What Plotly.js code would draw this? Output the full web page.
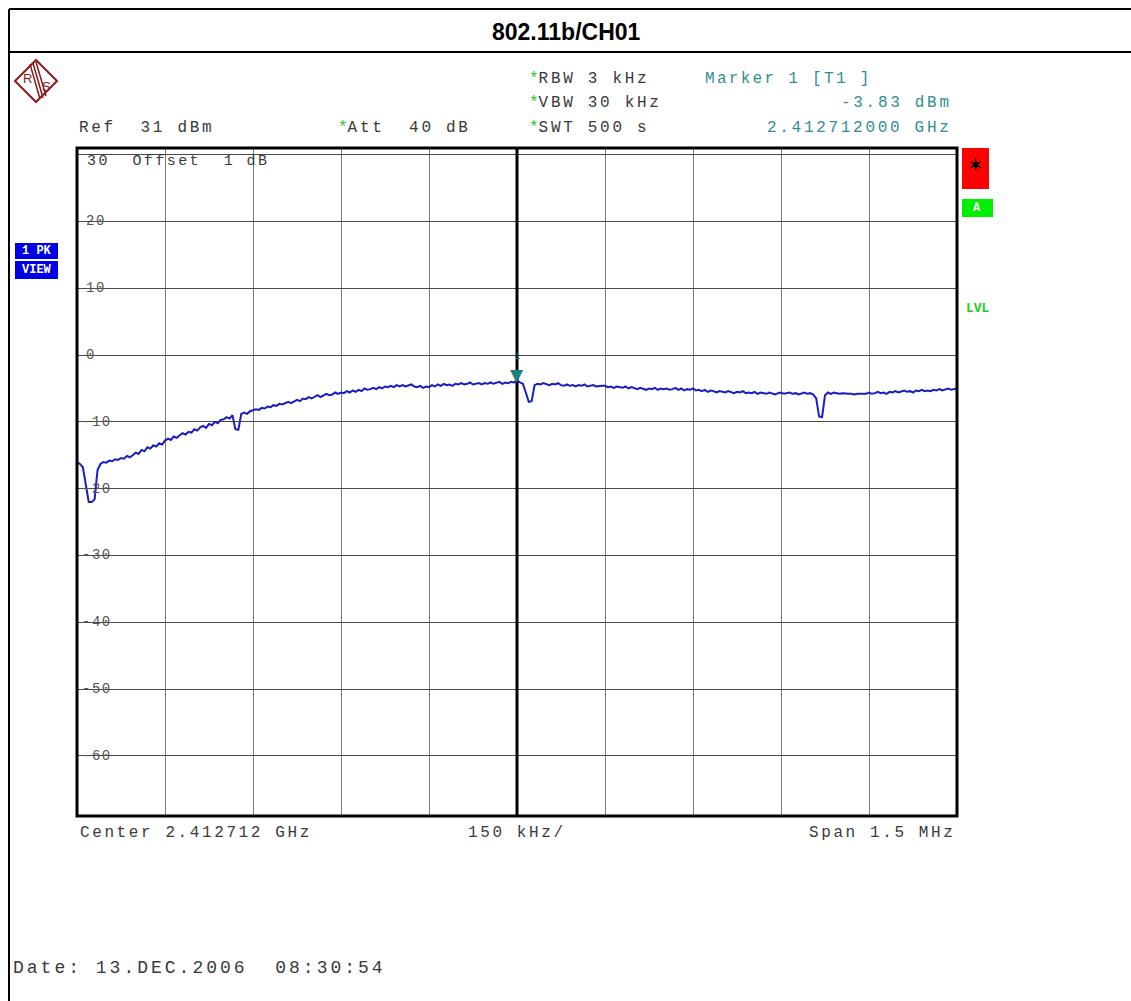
<!DOCTYPE html>
<html>
<head>
<meta charset="utf-8">
<script src="https://cdn.plot.ly/plotly-3.0.1.min.js"></script>
<style>
html,body{margin:0;padding:0;background:#fff;}
#chart{width:1131px;height:1001px;}
</style>
</head>
<body>
<div id="chart"></div>
<script>
// ---------------- DATA ----------------
const titleText = "802.11b/CH01";
const centerFreqText = "2.412712 GHz";
const spanKHz = 1500;            // 1.5 MHz span
const sweepPoints = 301;         // trace points across the span
const divKHz = 150;              // 150 kHz/div
const refLevel = 31;             // Ref 31 dBm (top of grid)
const bottomLevel = -69;         // 10 dB/div, 10 divisions
const yLabelValues = [30, 20, 10, 0, -10, -20, -30, -40, -50, -60];
const markerKHz = 750;           // marker 1 at center
const markerLevel = -3.83;       // dBm

// trace level (dBm), one value every 5 kHz from the left edge
const traceLevels = [
  -16.0, -16.3, -16.8, -19.5, -22.0, -22.0, -21.6, -17.2, -16.3, -16.0,
  -16.1, -15.8, -15.9, -15.6, -15.7, -15.4, -15.5, -15.1, -15.3, -15.0,
  -14.6, -14.8, -14.2, -14.4, -13.8, -14.0, -13.5, -13.7, -13.2, -13.4,
  -12.8, -12.5, -12.7, -12.2, -12.4, -12.0, -11.7, -11.9, -11.5, -11.6,
  -11.1, -11.3, -10.8, -10.6, -10.9, -10.3, -10.5, -10.0, -10.2, -9.7,
  -9.6, -9.3, -9.5, -9.0, -11.1, -11.2, -8.8, -8.6, -8.8, -8.4,
  -8.3, -8.1, -8.2, -7.9, -8.0, -7.7, -7.8, -7.5, -7.6, -7.3,
  -7.4, -7.2, -7.0, -7.2, -6.9, -6.7, -6.9, -6.5, -6.6, -6.3,
  -6.5, -6.2, -6.0, -6.3, -6.1, -5.8, -6.0, -5.9, -5.6, -5.8,
  -5.6, -5.7, -5.4, -5.6, -5.3, -5.5, -5.2, -5.4, -5.0, -5.2,
  -5.1, -4.9, -5.1, -4.8, -5.0, -4.7, -4.8, -4.6, -4.8, -4.5,
  -4.7, -4.5, -4.7, -4.6, -4.4, -4.7, -4.8, -4.6, -4.9, -4.7,
  -4.8, -4.5, -4.7, -4.4, -4.6, -4.3, -4.5, -4.4, -4.6, -4.3,
  -4.4, -4.2, -4.4, -4.3, -4.1, -4.4, -4.3, -4.2, -4.4, -4.2,
  -4.3, -4.1, -4.3, -4.2, -4.0, -4.3, -4.1, -4.2, -4.0, -4.1,
  -3.83, -4.1, -4.3, -5.6, -7.0, -6.9, -4.5, -4.3, -4.4, -4.2,
  -4.3, -4.5, -4.3, -4.4, -4.2, -4.5, -4.6, -4.4, -4.6, -4.5,
  -4.7, -4.5, -4.6, -4.4, -4.7, -4.6, -4.5, -4.7, -4.6, -4.6,
  -4.6, -4.8, -4.7, -4.9, -4.7, -4.8, -4.9, -4.7, -5.0, -4.8,
  -4.9, -5.1, -4.9, -5.0, -5.2, -5.0, -5.1, -4.9, -5.2, -5.0,
  -5.1, -5.0, -5.2, -5.1, -4.9, -5.2, -5.0, -5.3, -5.1, -5.2,
  -5.0, -5.3, -5.2, -5.4, -5.2, -5.5, -5.3, -5.4, -5.6, -5.4,
  -5.5, -5.6, -5.4, -5.5, -5.7, -5.5, -5.6, -5.4, -5.7, -5.6,
  -5.7, -5.5, -5.8, -5.6, -5.7, -5.8, -5.6, -5.7, -5.9, -5.7,
  -5.6, -5.8, -5.7, -5.6, -5.8, -5.7, -5.9, -5.7, -5.6, -5.8,
  -5.7, -5.9, -6.5, -9.2, -9.3, -6.0, -5.6, -5.8, -5.6, -5.7,
  -5.8, -5.7, -5.8, -5.8, -5.8, -5.9, -5.8, -5.8, -5.7, -5.8,
  -5.6, -5.8, -5.7, -5.5, -5.7, -5.6, -5.8, -5.5, -5.6, -5.4,
  -5.6, -5.5, -5.3, -5.5, -5.4, -5.6, -5.3, -5.4, -5.2, -5.4,
  -5.3, -5.4, -5.2, -5.3, -5.1, -5.3, -5.2, -5.0, -5.2, -5.1,
  -5.0
];

// sweep positions (kHz from left edge of the span)
const sweepKHz = traceLevels.map((_, i) => i * spanKHz / (sweepPoints - 1));

// ---------------- LAYOUT HELPERS ----------------
const W = 1131, H = 1001;
const M = {l: 77, r: W - 957, t: 148, b: H - 816};
const pw = W - M.l - M.r, ph = H - M.t - M.b;
const px = x => (x - M.l) / pw;          // pixel -> paper x
const py = y => (H - M.b - y) / ph;      // pixel -> paper y
const dbPerPx = (refLevel - bottomLevel) / ph;

const MONO = "Liberation Mono, DejaVu Sans Mono, monospace";
const GRAY = "#3a3a3a";
const TEAL = "#2f8f8f";
const GREEN = "#22cc22";
const LOGO = "#8b1c1c";
const sp = (t, ls) => `<span style="letter-spacing:${ls}px">${t}</span>`;
const star = `<span style="color:${GREEN}">*</span>`;

function txt(x, y, text, opts = {}) {
  return Object.assign({
    xref: "paper", yref: "paper", x: px(x), y: py(y),
    text: text, showarrow: false, xanchor: "left", yanchor: "middle",
    font: {family: MONO, size: 16, color: GRAY}, borderpad: 0
  }, opts);
}

const annotations = [
  // title
  txt(566, 32, "<b>" + titleText + "</b>", {xanchor: "center",
    font: {family: "Liberation Sans, Arial, sans-serif", size: 23, color: "#000"}}),
  // header
  txt(78, 128, sp("Ref  31 dBm", 2.7)),
  txt(337, 128, star + sp("Att  40 dB", 2.7)),
  txt(528, 79, star + sp("RBW 3 kHz", 2.7)),
  txt(528, 103, star + sp("VBW 30 kHz", 2.7)),
  txt(528, 128, star + sp("SWT 500 s", 2.7)),
  txt(704, 79, sp("Marker 1 [T1 ]", 2.3), {font: {family: MONO, size: 16, color: TEAL}}),
  txt(953, 103, sp("-3.83 dBm", 2.7), {xanchor: "right", font: {family: MONO, size: 16, color: TEAL}}),
  txt(953, 128, sp("2.412712000 GHz", 2.7), {xanchor: "right", font: {family: MONO, size: 16, color: TEAL}}),
  // top-left inside grid
  txt(86, 161, sp("30  Offset  1 dB", 2.4), {font: {family: MONO, size: 15, color: GRAY}}),
  // bottom
  txt(79, 833, sp("Center " + centerFreqText, 2.6)),
  txt(517, 833, sp(divKHz + " kHz/", 2.6), {xanchor: "center"}),
  txt(956, 833, sp("Span 1.5 MHz", 2.6), {xanchor: "right"}),
  txt(12, 968, sp("Date: 13.DEC.2006  08:30:54", 3.0), {font: {family: MONO, size: 18, color: GRAY}}),
  // side boxes
  txt(36.5, 251, "<b>1 PK</b>", {xanchor: "center", font: {family: MONO, size: 12, color: "#fff"}}),
  txt(36.5, 270, "<b>VIEW</b>", {xanchor: "center", font: {family: MONO, size: 12, color: "#fff"}}),
  txt(975.5, 165, "✶", {xanchor: "center", font: {family: "DejaVu Sans", size: 20, color: "#000"}}),
  txt(977, 208, "<b>A</b>", {xanchor: "center", font: {family: MONO, size: 12, color: "#fff"}}),
  txt(978, 308, "<b>LVL</b>", {xanchor: "center", font: {family: MONO, size: 13, color: GREEN}}),
  // R&S logo letters
  txt(27, 78, "R", {xanchor: "center", font: {family: "Liberation Sans, Arial", size: 13, color: LOGO}}),
  txt(46, 86, "S", {xanchor: "center", font: {family: "Liberation Sans, Arial", size: 13, color: LOGO}}),
  // marker 1
  {xref: "x", yref: "y", x: markerKHz, y: markerLevel, text: "▼", showarrow: false,
   xanchor: "center", yanchor: "bottom", yshift: -6,
   font: {family: "DejaVu Sans", size: 17, color: "#1f7f7a"}},
  {xref: "x", yref: "y", x: markerKHz, y: markerLevel, text: "1", showarrow: false,
   xanchor: "center", yanchor: "bottom", yshift: 17,
   font: {family: MONO, size: 9, color: "#1f7f7a"}}
];

const shapes = [];

// y-axis labels drawn inside the grid (R&S style), white gap behind them on the gridline
yLabelValues.forEach(v => {
  if (v === 30) return; // drawn with the "Offset" text
  const x0 = v < 0 ? 81 : 84;
  const x1 = v < 0 ? 117 : 106;
  shapes.push({type: "rect", xref: "paper", yref: "y", x0: px(x0), x1: px(x1),
    y0: v - 6 * dbPerPx, y1: v + 6 * dbPerPx, fillcolor: "#fff", line: {width: 0}, layer: "between"});
  annotations.push({
    xref: "paper", yref: "y", x: px(v < 0 ? 81 : 85), y: v,
    text: sp(String(v), 1.5), showarrow: false, xanchor: "left", yanchor: "middle",
    font: {family: MONO, size: 14, color: "#555"}, borderpad: 0
  });
});

const logoStroke = {color: LOGO, width: 1.5};
shapes.push(
  // outer frame lines
  {type: "line", xref: "paper", yref: "paper", x0: px(9), x1: px(9), y0: py(9), y1: py(1001), line: {color: "#000", width: 2}},
  {type: "line", xref: "paper", yref: "paper", x0: px(9), x1: px(1131), y0: py(9), y1: py(9), line: {color: "#000", width: 2}},
  {type: "line", xref: "paper", yref: "paper", x0: px(9), x1: px(1131), y0: py(52), y1: py(52), line: {color: "#000", width: 2}},
  // center line
  {type: "line", xref: "x", yref: "paper", x0: markerKHz, x1: markerKHz, y0: 0, y1: 1, line: {color: "#000", width: 3}},
  // plot frame
  {type: "rect", xref: "paper", yref: "paper", x0: 0, x1: 1, y0: 0, y1: 1, line: {color: "#000", width: 3}},
  // side boxes
  {type: "rect", xref: "paper", yref: "paper", x0: px(962), x1: px(989), y0: py(148), y1: py(189), fillcolor: "#ff0000", line: {width: 0}},
  {type: "rect", xref: "paper", yref: "paper", x0: px(962), x1: px(993), y0: py(199), y1: py(217), fillcolor: "#00ee00", line: {width: 0}},
  {type: "rect", xref: "paper", yref: "paper", x0: px(15), x1: px(58), y0: py(243), y1: py(259), fillcolor: "#0000e6", line: {width: 0}, layer: "below"},
  {type: "rect", xref: "paper", yref: "paper", x0: px(15), x1: px(58), y0: py(261), y1: py(279), fillcolor: "#0000e6", line: {width: 0}, layer: "below"},
  // R&S logo: diamond with diagonal stripes
  {type: "path", xref: "paper", yref: "paper",
   path: `M ${px(36)} ${py(60)} L ${px(57)} ${py(81)} L ${px(36)} ${py(102)} L ${px(15)} ${py(81)} Z`,
   line: {color: LOGO, width: 2}},
  {type: "line", xref: "paper", yref: "paper", x0: px(30), x1: px(40), y0: py(64), y1: py(99), line: logoStroke},
  {type: "line", xref: "paper", yref: "paper", x0: px(33), x1: px(43), y0: py(63), y1: py(98), line: logoStroke},
  {type: "line", xref: "paper", yref: "paper", x0: px(36), x1: px(46), y0: py(62), y1: py(96), line: logoStroke}
);

const trace = {
  x: sweepKHz, y: traceLevels, type: "scatter", mode: "lines",
  line: {color: "#1c1cc4", width: 2}, hoverinfo: "skip"
};

const layout = {
  width: W, height: H, margin: M, showlegend: false,
  paper_bgcolor: "#fff", plot_bgcolor: "#fff",
  xaxis: {range: [0, spanKHz], tick0: 0, dtick: divKHz, showticklabels: false,
          ticks: "", showgrid: true, gridcolor: "#7a7a7a", gridwidth: 1, zeroline: false, fixedrange: true},
  yaxis: {range: [bottomLevel, refLevel], tick0: 0, dtick: 10, showticklabels: false,
          ticks: "", showgrid: true, gridcolor: "#4a4a4a", gridwidth: 1, zeroline: false, fixedrange: true},
  annotations: annotations, shapes: shapes
};

Plotly.newPlot("chart", [trace], layout, {staticPlot: true, displayModeBar: false});
</script>
</body>
</html>
